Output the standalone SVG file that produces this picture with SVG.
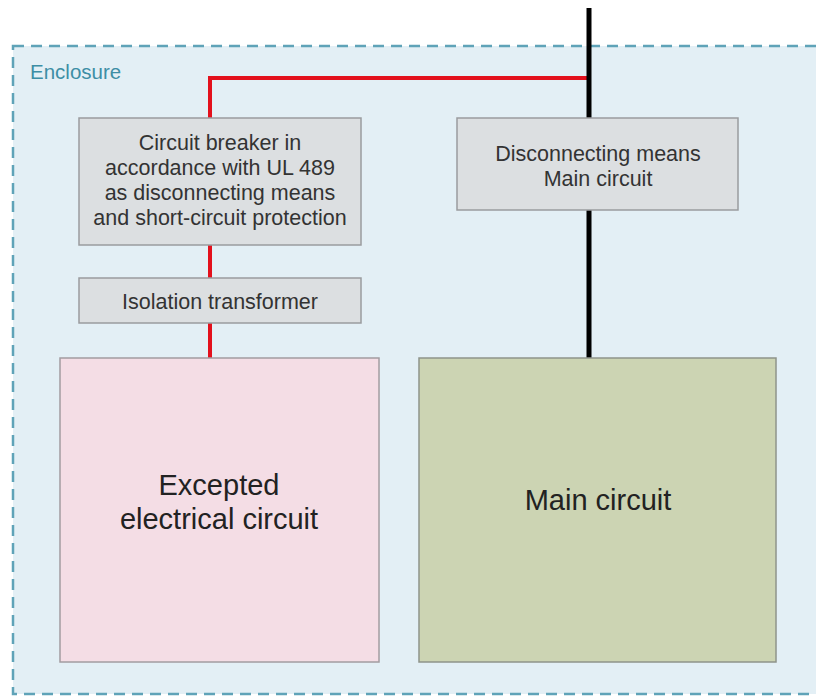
<svg xmlns="http://www.w3.org/2000/svg" width="816" height="696" viewBox="0 0 816 696">
<style>
.t{font-family:"Liberation Sans",Arial,sans-serif;fill:#333;text-anchor:middle}
.s{font-size:21.5px}
.b{font-size:29px;fill:#222}
.gray{fill:#dcdfe1;stroke:#9a9c9e;stroke-width:1.5}
</style>
<rect width="816" height="696" fill="#fff"/>
<g id="enclosure">
<rect x="13" y="46" width="830" height="648" fill="#e3eff5" stroke="#5fa3b8" stroke-width="2.5" stroke-dasharray="11,7"/>
<text x="30" y="79" font-family="Liberation Sans,Arial,sans-serif" font-size="20.5" fill="#3d8ea5">Enclosure</text>
</g>
<g id="connectors" fill="none">
<polyline points="210,118 210,78 589,78" stroke="#e3101c" stroke-width="4"/>
<line x1="210" y1="245" x2="210" y2="278" stroke="#e3101c" stroke-width="4"/>
<line x1="210" y1="323" x2="210" y2="358" stroke="#e3101c" stroke-width="4"/>
<line x1="589" y1="8" x2="589" y2="118" stroke="#000" stroke-width="5"/>
<line x1="589" y1="210" x2="589" y2="358" stroke="#000" stroke-width="5"/>
</g>
<g id="breaker">
<rect class="gray" x="79" y="118" width="282" height="127"/>
<text class="t s" x="220" y="150">Circuit breaker in</text>
<text class="t s" x="220" y="175">accordance with UL 489</text>
<text class="t s" x="220" y="200">as disconnecting means</text>
<text class="t s" x="220" y="225">and short-circuit protection</text>
</g>
<g id="disconnect">
<rect class="gray" x="457" y="118" width="281" height="92"/>
<text class="t s" x="598" y="161">Disconnecting means</text>
<text class="t s" x="598" y="186">Main circuit</text>
</g>
<g id="transformer">
<rect class="gray" x="79" y="278" width="282" height="45"/>
<text class="t s" x="220" y="309">Isolation transformer</text>
</g>
<g id="excepted">
<rect x="60" y="358" width="319" height="304" fill="#f4dde5" stroke="#a39ca0" stroke-width="1.5"/>
<text class="t b" x="219" y="495">Excepted</text>
<text class="t b" x="219" y="529">electrical circuit</text>
</g>
<g id="main">
<rect x="419" y="358" width="357" height="304" fill="#ccd4b3" stroke="#8f948a" stroke-width="1.5"/>
<text class="t b" x="598" y="510">Main circuit</text>
</g>
</svg>
